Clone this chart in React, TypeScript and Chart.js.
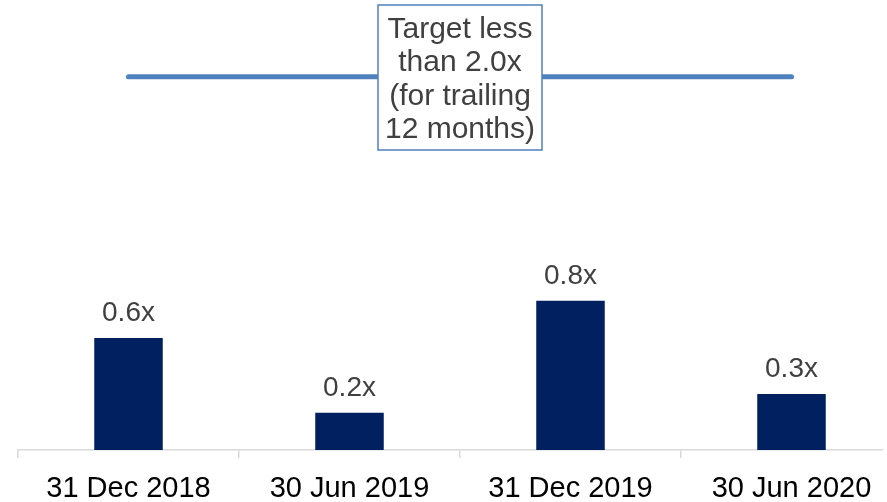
import React, { useEffect, useRef } from "react";
import { Chart, registerables } from "chart.js";

Chart.register(...registerables);

const categories = ["31 Dec 2018", "30 Jun 2019", "31 Dec 2019", "30 Jun 2020"];
const ratioValues = [0.6, 0.2, 0.8, 0.3];
const ratioLabels = ["0.6x", "0.2x", "0.8x", "0.3x"];
const targetValues = [2.0, 2.0, 2.0, 2.0];
const targetNoteLines = ["Target less", "than 2.0x", "(for trailing", "12 months)"];

const FONT = "'Liberation Sans', Arial, sans-serif";

const barLabelPlugin = {
  id: "barLabels",
  afterDatasetsDraw(chart: any) {
    const ctx = chart.ctx;
    const meta = chart.getDatasetMeta(0);
    ctx.save();
    ctx.font = `28px ${FONT}`;
    ctx.fillStyle = "#404040";
    ctx.textAlign = "center";
    ctx.textBaseline = "alphabetic";
    meta.data.forEach((el: any, i: number) => {
      ctx.fillText(ratioLabels[i], el.x, el.y - 17);
    });
    ctx.restore();
  },
};

const noteBoxPlugin = {
  id: "noteBox",
  afterDraw(chart: any) {
    const ctx = chart.ctx;
    const area = chart.chartArea;
    const cx = (area.left + area.right) / 2;
    const w = 164;
    const x0 = cx - w / 2;
    const y0 = 5;
    const h = 145;
    ctx.save();
    ctx.fillStyle = "#ffffff";
    ctx.fillRect(x0, y0, w, h);
    ctx.strokeStyle = "#4f81bd";
    ctx.lineWidth = 1.5;
    ctx.strokeRect(x0, y0, w, h);
    ctx.font = `30px ${FONT}`;
    ctx.fillStyle = "#404040";
    ctx.textAlign = "center";
    ctx.textBaseline = "alphabetic";
    targetNoteLines.forEach((line, i) => {
      ctx.fillText(line, cx, 37.5 + i * 33.5);
    });
    ctx.restore();
  },
};

export default function App() {
  const ref = useRef<HTMLCanvasElement | null>(null);

  useEffect(() => {
    if (!ref.current) return;
    const chart = new Chart(ref.current, {
      type: "bar",
      data: {
        labels: categories,
        datasets: [
          {
            type: "bar",
            data: ratioValues,
            backgroundColor: "#002060",
            barPercentage: 0.62,
            categoryPercentage: 0.5,
            order: 2,
          },
          {
            type: "line",
            data: targetValues,
            borderColor: "#4f81bd",
            borderWidth: 5,
            borderCapStyle: "round",
            pointRadius: 0,
            fill: false,
            order: 1,
          } as any,
        ],
      },
      options: {
        responsive: false,
        animation: false,
        devicePixelRatio: 1,
        layout: { padding: { left: 18, right: 18, top: 2, bottom: 0 } },
        plugins: {
          legend: { display: false },
          tooltip: { enabled: false },
        },
        scales: {
          x: {
            offset: true,
            grid: {
              display: true,
              offset: true,
              drawOnChartArea: false,
              drawTicks: true,
              tickLength: 8,
              color: "#d9d9d9",
              lineWidth: 1.5,
            },
            border: { display: true, color: "#d9d9d9", width: 1.5 },
            ticks: {
              color: "#000000",
              font: { family: FONT, size: 29, lineHeight: 1 },
              padding: 16,
              maxRotation: 0,
              autoSkip: false,
            },
          },
          y: {
            display: false,
            min: 0,
            max: 2.4,
          },
        },
      },
      plugins: [barLabelPlugin, noteBoxPlugin],
    });
    return () => chart.destroy();
  }, []);

  return (
    <div
      style={{
        position: "fixed",
        left: 0,
        top: 0,
        width: 883,
        height: 502,
        overflow: "hidden",
        background: "#ffffff",
      }}
    >
      <canvas ref={ref} width={920} height={519} style={{ display: "block" }} />
    </div>
  );
}
